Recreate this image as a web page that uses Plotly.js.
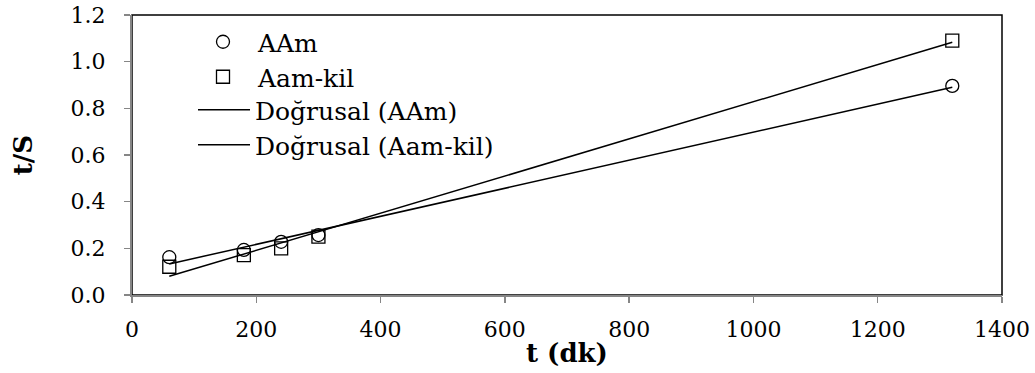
<!DOCTYPE html>
<html>
<head>
<meta charset="utf-8">
<script src="https://cdn.plot.ly/plotly-3.0.1.min.js"></script>
<style>html,body{margin:0;padding:0;background:#fff;}#chart{width:1035px;height:373px;}</style>
</head>
<body>
<div id="chart"></div>
<script>
// Data
const tAAm = [60, 180, 240, 300, 1320];
const yAAm = [0.162, 0.193, 0.228, 0.257, 0.896];
const tAamKil = [60, 180, 240, 300, 1320];
const yAamKil = [0.121, 0.171, 0.200, 0.250, 1.090];
// Linear trend line end points (Doğrusal)
const trendT = [60, 1320];
const trendAAm = [0.133, 0.890];
const trendAamKil = [0.080, 1.083];
const seriesNames = ['AAm', 'Aam-kil', 'Doğrusal (AAm)', 'Doğrusal (Aam-kil)'];
const xTitle = 't (dk)';
const yTitle = 't/S';

const FONT = 'DejaVu Serif';
const AXIS_GRAY = '#868686';

const traces = [
  {x: trendT, y: trendAAm, mode: 'lines', name: seriesNames[2], legend: 'legend3',
   line: {color: '#000', width: 1.5}},
  {x: trendT, y: trendAamKil, mode: 'lines', name: seriesNames[3], legend: 'legend4',
   line: {color: '#000', width: 1.5}},
  {x: tAAm, y: yAAm, mode: 'markers', name: seriesNames[0], legend: 'legend',
   marker: {symbol: 'circle-open', size: 13, color: '#000', line: {width: 1.3, color: '#000'}}},
  {x: tAamKil, y: yAamKil, mode: 'markers', name: seriesNames[1], legend: 'legend2',
   marker: {symbol: 'square-open', size: 13, color: '#000', line: {width: 1.3, color: '#000'}}}
];

const L = 132, R = 1002, T = 15, B = 295;
const px = v => (v - L) / (R - L);
const py = v => (B - v) / (B - T);
const legFont = {family: FONT, size: 25, color: '#000'};
function leg(x, y, w) {
  return {x: px(x), y: py(y), xanchor: 'left', yanchor: 'middle', bgcolor: 'rgba(0,0,0,0)',
          borderwidth: 0, font: legFont, itemwidth: w, itemclick: false, itemdoubleclick: false};
}

const layout = {
  width: 1035, height: 373,
  margin: {l: L, r: 1035 - R, t: T, b: 373 - B, pad: 0},
  paper_bgcolor: '#fff', plot_bgcolor: '#fff',
  font: {family: FONT, size: 22, color: '#000'},
  showlegend: true,
  legend: leg(188, 42, 60),
  legend2: leg(188, 77, 60),
  legend3: leg(193, 110, 52),
  legend4: leg(193, 145, 52),
  xaxis: {
    range: [0, 1400], dtick: 200, tick0: 0, showgrid: false, zeroline: false,
    showline: true, linecolor: AXIS_GRAY, linewidth: 2,
    ticks: 'outside', ticklen: 6, tickwidth: 1.5, tickcolor: AXIS_GRAY,
    tickfont: {family: FONT, size: 22, color: '#000'}, ticklabelstandoff: 8,
    title: {text: xTitle, font: {family: FONT, size: 26, color: '#000', weight: 'bold'}, standoff: 2}
  },
  yaxis: {
    range: [0, 1.2], dtick: 0.2, tick0: 0, tickformat: '.1f', showgrid: false, zeroline: false,
    showline: true, linecolor: AXIS_GRAY, linewidth: 2,
    ticks: 'outside', ticklen: 6, tickwidth: 1.5, tickcolor: AXIS_GRAY,
    tickfont: {family: FONT, size: 22, color: '#000'}, ticklabelstandoff: 14,
    title: {text: yTitle, font: {family: FONT, size: 26, color: '#000', weight: 'bold'}, standoff: 30}
  },
  shapes: [
    {type: 'rect', xref: 'paper', yref: 'paper', x0: 0, x1: 1, y0: 0, y1: 1,
     line: {color: '#000', width: 1.5}, layer: 'below'}
  ]
};

Plotly.newPlot('chart', traces, layout, {staticPlot: true, displayModeBar: false});
</script>
</body>
</html>
